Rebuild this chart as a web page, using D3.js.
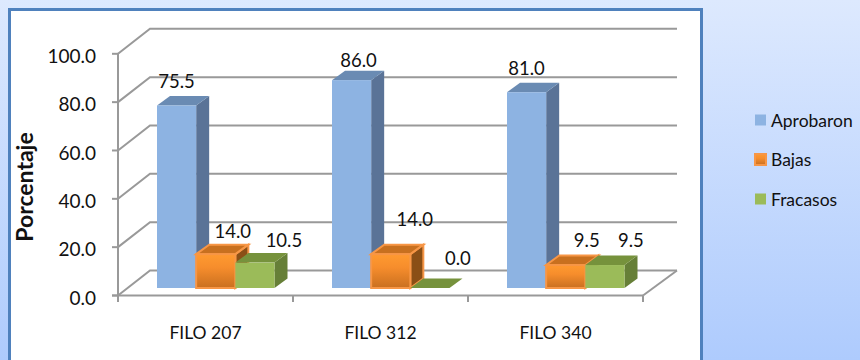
<!DOCTYPE html>
<html><head><meta charset="utf-8">
<style>html,body{margin:0;padding:0;background:#fff}svg{display:block}text{font-family:Lato,"Open Sans",sans-serif;fill:#111}</style>
<script src="https://cdn.jsdelivr.net/npm/d3@7"></script>
</head><body><div id="c"></div>
<script>
const categories = ["FILO 207","FILO 312","FILO 340"];
const seriesNames = ["Aprobaron","Bajas","Fracasos"];
const aprobaron = [75.5,86.0,81.0];
const bajas = [14.0,14.0,9.5];
const fracasos = [10.5,0.0,9.5];
const yTicks = [0,20,40,60,80,100];
const axisTitle = "Porcentaje";

const W=860,H=360;
const svg=d3.select("#c").append("svg").attr("width",W).attr("height",H);
const defs=svg.append("defs");
const bg=defs.append("linearGradient").attr("id","bg").attr("x1",0).attr("y1",0).attr("x2",0).attr("y2",1);
bg.append("stop").attr("offset",0).attr("stop-color","#dde9fe");
bg.append("stop").attr("offset",1).attr("stop-color","#aecbfd");
const og=defs.append("linearGradient").attr("id","og").attr("x1",0).attr("y1",0).attr("x2",0).attr("y2",1);
og.append("stop").attr("offset",0).attr("stop-color","#ff9a30");
og.append("stop").attr("offset",0.4).attr("stop-color","#f68d2c");
og.append("stop").attr("offset",1).attr("stop-color","#c96f20");

svg.append("rect").attr("width",W).attr("height",H).attr("fill","url(#bg)");
svg.append("rect").attr("x",9.5).attr("y",9.5).attr("width",692).attr("height",H+20)
  .attr("fill","#fff").attr("stroke","#4f81bd").attr("stroke-width",3);

// plot geometry (layout only)
const dxWall=32,dyWall=25, dxBar=13,dyBar=9.5, floorOff=7.5;
const y=d3.scaleLinear().domain([0,100]).range([295.5,53.8]);
const x0=d3.scaleBand().domain(categories).range([118,643]);
const x1=d3.scaleBand().domain(seriesNames).range([39,156.5]);
const colors={
 Aprobaron:{front:"#8db3e2",top:"#6a8bb3",side:"#5a7397",stroke:"none"},
 Bajas:{front:"url(#og)",top:"#c8701f",side:"#8a4f16",stroke:"#f79646"},
 Fracasos:{front:"#9bbb59",top:"#76923c",side:"#667f37",stroke:"none"}
};
const values={Aprobaron:aprobaron,Bajas:bajas,Fracasos:fracasos};
const grid="#999999";
const g=svg.append("g");
// back wall and side wall gridlines
yTicks.forEach(t=>{
  const yy=y(t);
  g.append("path").attr("fill","none").attr("stroke",grid).attr("stroke-width",2)
   .attr("d",d3.line()([[118,yy],[118+dxWall,yy-dyWall],[677,yy-dyWall]]));
  if(t===0) g.append("path").attr("fill","none").attr("stroke",grid).attr("stroke-width",2)
   .attr("d",d3.line()([[643,yy],[677,yy-dyWall]]));
  g.append("line").attr("x1",112).attr("x2",118).attr("y1",yy).attr("y2",yy).attr("stroke",grid).attr("stroke-width",2);
});
// axis lines and ticks
g.append("line").attr("x1",118).attr("x2",118).attr("y1",y(100)).attr("y2",302).attr("stroke",grid).attr("stroke-width",2);
g.append("line").attr("x1",112).attr("x2",643).attr("y1",y(0)).attr("y2",y(0)).attr("stroke",grid).attr("stroke-width",2);
categories.forEach((c,i)=>{
  const xx=x0(c)+x0.bandwidth();
  g.append("line").attr("x1",xx).attr("x2",xx).attr("y1",y(0)).attr("y2",302).attr("stroke",grid).attr("stroke-width",2);
});
// y tick labels
g.selectAll(".yl").data(yTicks).join("text").attr("class","yl")
 .attr("x",96).attr("y",d=>y(d)+2.5).attr("dy","0.35em").attr("text-anchor","end")
 .attr("font-size",19).text(d=>d.toFixed(1));
// category labels
g.selectAll(".xl").data(categories).join("text").attr("class","xl")
 .attr("x",d=>x0(d)+x0.bandwidth()/2).attr("y",339).attr("text-anchor","middle")
 .attr("font-size",17.5).text(d=>d);
// axis title
g.append("text").attr("transform","translate(33,187) rotate(-90)").attr("text-anchor","middle")
 .attr("font-size",23).attr("font-weight","bold").text(axisTitle);

// bars
const base=y(0)-floorOff;
const scaleH=v=>y(0)-y(v);
categories.forEach((c,i)=>{
  seriesNames.forEach(s=>{
    const v=values[s][i], col=colors[s];
    const L=x0(c)+x1(s), R=L+x1.bandwidth(), T=base-scaleH(v);
    const bar=g.append("g");
    const sw=col.stroke==="none"?null:2;
    bar.append("path").attr("fill",col.side).attr("stroke",col.stroke).attr("stroke-width",sw)
      .attr("d",d3.line()([[R,T],[R+dxBar,T-dyBar],[R+dxBar,base-dyBar],[R,base]])+"Z");
    bar.append("path").attr("fill",col.top).attr("stroke",col.stroke).attr("stroke-width",sw)
      .attr("d",d3.line()([[L,T],[L+dxBar,T-dyBar],[R+dxBar,T-dyBar],[R,T]])+"Z");
    if(v>0) bar.append("rect").attr("x",L).attr("y",T).attr("width",R-L).attr("height",base-T)
      .attr("fill",col.front).attr("stroke",col.stroke).attr("stroke-width",sw);
  });
});
// data labels: hand-placed offsets in the source chart (layout only)
const nudge={
 Aprobaron:[[0,-24],[7,-20],[0,-24]],
 Bajas:[[17,-23],[24,-35],[21,-25]],
 Fracasos:[[29,-22],[28,-29],[26,-25]]
};
categories.forEach((c,i)=>{
  seriesNames.forEach(s=>{
    const v=values[s][i];
    const cx=x0(c)+x1(s)+x1.bandwidth()/2, T=base-scaleH(v);
    const n=nudge[s][i];
    g.append("text").attr("x",cx+n[0]).attr("y",T+n[1]).attr("dy","0.35em")
     .attr("text-anchor","middle").attr("font-size",18.5).text(v.toFixed(1));
  });
});
// legend
const ly=d3.scalePoint().domain(seriesNames).range([120,199]);
seriesNames.forEach(s=>{
  const col=colors[s];
  if(s==="Bajas"){
    svg.append("rect").attr("x",755).attr("y",ly(s)-5.5).attr("width",11).attr("height",11)
     .attr("fill","url(#og)").attr("stroke","#f79646").attr("stroke-width",2);
  } else {
    svg.append("rect").attr("x",755).attr("y",ly(s)-5.5).attr("width",11).attr("height",11).attr("fill",col.front);
  }
  svg.append("text").attr("x",771).attr("y",ly(s)+0.5).attr("dy","0.35em").attr("font-size",17.5).text(s);
});
</script></body></html>
